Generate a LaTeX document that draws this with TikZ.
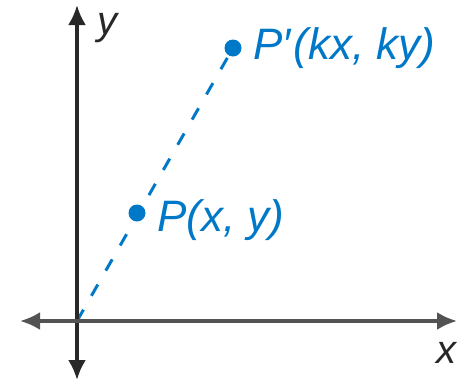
\documentclass[tikz,border=0pt]{standalone}
\usepackage{fontspec}
\setmainfont{Liberation Sans}
\usetikzlibrary{arrows.meta}
\definecolor{ptblue}{RGB}{0,120,200}
\definecolor{axisgray}{RGB}{40,40,40}
\begin{document}
\begin{tikzpicture}[x=1pt,y=-1pt,
  axis/.style={draw=axisgray,line width=3.5pt,{Latex[length=20pt,width=18pt]}-{Latex[length=20pt,width=18pt]}},
  ptdot/.style={circle,fill=ptblue,inner sep=0pt,minimum size=17pt},
  lbl/.style={text=ptblue,font=\fontsize{44}{50}\selectfont\itshape,inner sep=0pt,anchor=west},
  axlbl/.style={text=axisgray,font=\fontsize{40}{46}\selectfont\itshape,inner sep=0pt}]
\useasboundingbox (0,0) rectangle (457,381);
\coordinate (O) at (77,321);
\coordinate (yb) at (77,380);
\coordinate (yt) at (77,5);
\coordinate (xl) at (20,321);
\coordinate (xr) at (457,321);
\draw[ptblue,line width=3pt,dash pattern=on 13pt off 16pt] (O) -- (233,48);
\draw[axis] (yb) -- (yt);
\draw[axis,draw=axisgray!80] (xl) -- (xr);
\node[ptdot] (P) at (137,213) {};
\node[ptdot] (Pp) at (233,48) {};
\node[lbl] (Pl) at (157,220) {P(x, y)};
\node[lbl] (Ppl) at (253,48) {P′\kern3pt(kx, ky)};
\node[axlbl] (yl) at (107,28) {y};
\node[axlbl] (xl2) at (446,353) {x};
\end{tikzpicture}
\end{document}
